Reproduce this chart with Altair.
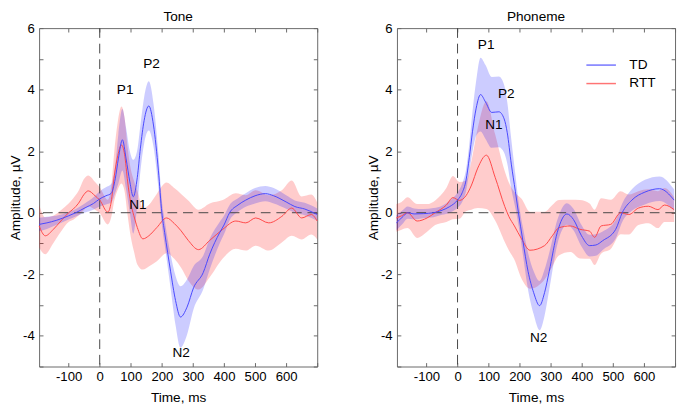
import altair as alt
import pandas as pd

# ---------------- data ----------------
# Tone, TD group
tone_td_t = [-195, -170, -140, -100, -77, -47, -20, 0, 20, 37, 50, 60, 73, 85, 97,
             108, 121, 131, 143, 158, 173, 189, 200, 209, 228, 244, 260, 281, 302, 333,
             354, 386, 400, 418, 445, 470, 500, 533, 560, 600, 628, 660, 700]
tone_td_mean = [-0.38, -0.33, -0.25, -0.1, 0.0, 0.16, 0.3, 0.45, 0.55, 0.63, 1.1, 1.75, 2.37, 1.75, 1.0,
                0.52, 1.15, 2.1, 3.0, 3.47, 2.85, 1.36, 0.0, -0.64, -1.9, -2.85, -3.39, -3.07, -2.44, -1.95,
                -1.35, -0.65, -0.4, 0.0, 0.25, 0.41, 0.55, 0.62, 0.55, 0.35, 0.2, 0.12, -0.06]
tone_td_sem = [0.22, 0.2, 0.15, 0.12, 0.12, 0.15, 0.2, 0.25, 0.28, 0.3, 0.45, 0.8, 1.0, 1.0, 1.0,
               1.2, 0.9, 0.75, 0.75, 0.8, 0.7, 0.55, 0.4, 0.4, 0.55, 0.8, 1.0, 0.9, 0.7, 0.55,
               0.5, 0.35, 0.3, 0.25, 0.22, 0.22, 0.25, 0.25, 0.25, 0.22, 0.2, 0.2, 0.2]

# Tone, RTT group
tone_rtt_t = [-195, -175, -150, -125, -100, -85, -68, -50, -37, -15, 0, 26, 37, 47, 58,
              70, 80, 90, 100, 110, 121, 139, 158, 184, 215, 240, 262, 285, 318, 354,
              396, 438, 470, 502, 544, 586, 618, 650, 681, 700]
tone_rtt_mean = [-0.43, -0.75, -0.55, -0.27, 0.0, 0.12, 0.31, 0.6, 0.71, 0.55, 0.41, 0.02, 0.35, 1.2, 1.85,
                 2.2, 1.9, 1.0, 0.31, -0.1, -0.48, -0.85, -0.75, -0.48, -0.17, -0.35, -0.59, -0.9, -1.2, -0.9,
                 -0.54, -0.27, -0.33, -0.17, -0.33, -0.12, 0.15, -0.17, -0.06, -0.27]
tone_rtt_sem = [0.7, 0.6, 0.45, 0.35, 0.3, 0.35, 0.4, 0.5, 0.5, 0.45, 0.42, 0.4, 0.5, 0.8, 1.1,
                1.25, 1.2, 1.1, 1.1, 1.15, 1.2, 1.0, 1.0, 1.1, 1.15, 1.15, 1.2, 1.3, 1.3, 1.2,
                0.95, 0.9, 0.9, 0.9, 0.9, 0.85, 0.9, 0.7, 0.65, 0.6]

# Phoneme, TD group
phon_td_t = [-197, -175, -161, -140, -110, -77, -50, -25, 0, 15, 27, 38, 48, 60, 74,
             90, 110, 133, 150, 160, 173, 186, 196, 210, 227, 245, 264, 280, 295, 321,
             352, 373, 399, 425, 445, 467, 509, 530, 561, 603, 650, 697]
phon_td_mean = [-0.33, -0.12, 0.0, -0.04, -0.03, 0.0, 0.08, 0.2, 0.41, 0.65, 1.04, 1.8, 2.63, 3.4, 3.84,
                3.6, 3.26, 3.28, 3.05, 2.6, 1.58, 0.7, 0.0, -0.9, -1.91, -2.6, -3.02, -2.6, -1.91, -0.64,
                -0.04, -0.22, -0.75, -1.07, -1.05, -0.91, -0.54, 0.0, 0.41, 0.67, 0.78, 0.41]
phon_td_sem = [0.25, 0.22, 0.2, 0.18, 0.15, 0.15, 0.15, 0.2, 0.25, 0.3, 0.35, 0.45, 0.65, 0.9, 1.2,
               1.2, 1.15, 1.15, 1.1, 1.0, 0.8, 0.55, 0.4, 0.45, 0.6, 0.7, 0.8, 0.75, 0.6, 0.4,
               0.35, 0.35, 0.35, 0.35, 0.35, 0.3, 0.3, 0.3, 0.35, 0.4, 0.4, 0.35]

# Phoneme, RTT group
phon_rtt_t = [-197, -180, -161, -130, -98, -72, -36, -15, 6, 27, 45, 65, 93, 121, 152,
              165, 183, 206, 233, 280, 305, 326, 363, 394, 425, 441, 462, 493, 525, 551,
              582, 614, 645, 666, 697]
phon_rtt_mean = [-0.17, -0.1, 0.0, -0.27, -0.17, 0.0, 0.25, 0.49, 0.4, 0.55, 0.9, 1.45, 1.87, 1.15, 0.2,
                 -0.12, -0.43, -0.85, -1.22, -1.07, -0.75, -0.49, -0.43, -0.54, -0.6, -0.8, -0.43, -0.38, 0.0, -0.06,
                 0.15, 0.21, 0.1, 0.25, 0.1]
phon_rtt_sem = [0.45, 0.45, 0.5, 0.55, 0.45, 0.4, 0.55, 0.7, 0.6, 0.5, 0.8, 1.3, 1.75, 1.4, 1.15,
                1.1, 1.1, 1.3, 1.25, 1.1, 1.0, 0.9, 0.85, 0.95, 0.9, 0.9, 0.9, 0.8, 0.7, 0.65,
                0.55, 0.55, 0.6, 0.55, 0.4]

# Peak labels
tone_peak_labels = ["P1", "P2", "N1", "N2"]
tone_peak_t = [82, 167, 123, 262]
tone_peak_v = [4.0, 4.84, 0.25, -4.56]
phon_peak_labels = ["P1", "P2", "N1", "N2"]
phon_peak_t = [92, 157, 117, 261]
phon_peak_v = [5.44, 3.86, 2.85, -4.08]

groups = ["TD", "RTT"]
x_ticks = [-100, 0, 100, 200, 300, 400, 500, 600, 700]
y_ticks = [-5, -4, -3, -2, -1, 0, 1, 2, 3, 4, 5, 6]
x_domain = [-195, 700]
y_domain = [-5, 6]

BLUE = "#4646ff"
RED = "#ff4646"
FONT = "Liberation Sans"
FRAME = "#666666"


def make_df(t, m, s, g):
    return pd.DataFrame({
        "t": t, "m": m,
        "lo": [a - b for a, b in zip(m, s)],
        "hi": [a + b for a, b in zip(m, s)],
        "group": g,
    })


def panel(title, td, rtt, lab, lt, lv, show_legend):
    xs = alt.Scale(domain=x_domain, nice=False, zero=False)
    ys = alt.Scale(domain=y_domain, nice=False, zero=False)
    x_axis = alt.Axis(values=x_ticks, title="Time, ms", orient="bottom",
                      labelExpr="datum.value < 700 ? toString(datum.value) : ''")
    y_axis = alt.Axis(values=y_ticks, title="Amplitude, µV", orient="left",
                      labelExpr="datum.value % 2 == 0 ? toString(datum.value) : ''")
    top_axis = alt.Axis(values=x_ticks, orient="top", labels=False, title=None,
                        minExtent=0, maxExtent=0)
    right_axis = alt.Axis(values=y_ticks, orient="right", labels=False, title=None,
                          minExtent=0, maxExtent=0)

    band_rtt = alt.Chart(rtt).mark_area(interpolate="monotone", color="#ff0000", opacity=0.2).encode(
        x=alt.X("t:Q", scale=xs, axis=x_axis),
        y=alt.Y("lo:Q", scale=ys, axis=y_axis),
        y2="hi:Q",
    )
    band_td = alt.Chart(td).mark_area(interpolate="monotone", color="#0000ff", opacity=0.2).encode(
        x=alt.X("t:Q", scale=xs, axis=None),
        y=alt.Y("lo:Q", scale=ys, axis=None),
        y2="hi:Q",
    )
    hzero = alt.Chart(pd.DataFrame({"v": [0]})).mark_rule(
        color="#444444", strokeDash=[10, 6], strokeWidth=1).encode(
        y=alt.Y("v:Q", scale=ys, axis=None))
    vzero = alt.Chart(pd.DataFrame({"t": [0]})).mark_rule(
        color="#444444", strokeDash=[10, 6], strokeWidth=1).encode(
        x=alt.X("t:Q", scale=xs, axis=None))

    if show_legend:
        legend = alt.Legend(title=None, orient="none", legendX=201, legendY=29, padding=0,
                            symbolType="M-1.9,0L1.9,0", symbolSize=256, symbolStrokeWidth=1.5,
                            symbolOpacity=0.75,
                            labelOffset=20, labelFont=FONT, labelFontSize=14, labelColor="black",
                            rowPadding=3)
    else:
        legend = None
    lines = alt.Chart(pd.concat([rtt, td])).mark_line(interpolate="monotone", strokeWidth=1).encode(
        x=alt.X("t:Q", scale=xs, axis=None),
        y=alt.Y("m:Q", scale=ys, axis=None),
        color=alt.Color("group:N", scale=alt.Scale(domain=groups, range=[BLUE, RED]), legend=legend),
        order=alt.Order("ord:Q"),
    ).transform_calculate(ord="datum.group == 'TD' ? 1 : 0")

    texts = alt.Chart(pd.DataFrame({"label": lab, "t": lt, "v": lv})).mark_text(
        font=FONT, fontSize=14, color="black", align="center", baseline="middle").encode(
        x=alt.X("t:Q", scale=xs, axis=top_axis),
        y=alt.Y("v:Q", scale=ys, axis=right_axis),
        text="label:N",
    )

    return alt.layer(band_rtt, band_td, hzero, vzero, lines, texts).resolve_axis(
        x="independent", y="independent"
    ).properties(
        width=286, height=348,
        title=alt.TitleParams(title, font=FONT, fontSize=14, fontWeight="normal",
                              color="black", offset=-3),
    )


tone = panel("Tone",
             make_df(tone_td_t, tone_td_mean, tone_td_sem, "TD"),
             make_df(tone_rtt_t, tone_rtt_mean, tone_rtt_sem, "RTT"),
             tone_peak_labels, tone_peak_t, tone_peak_v, False)
phon = panel("Phoneme",
             make_df(phon_td_t, phon_td_mean, phon_td_sem, "TD"),
             make_df(phon_rtt_t, phon_rtt_mean, phon_rtt_sem, "RTT"),
             phon_peak_labels, phon_peak_t, phon_peak_v, True)

chart = alt.hconcat(tone, phon, spacing=47).resolve_scale(color="independent").resolve_legend(
    color="independent"
).properties(
    padding={"left": 0, "top": -4, "right": 0, "bottom": 0}
).configure_view(
    stroke=FRAME, strokeWidth=1
).configure_axis(
    grid=False, domain=False, tickColor=FRAME, tickSize=4, offset=-4,
    labelFont=FONT, labelFontSize=13.5, labelColor="black",
    titleFont=FONT, titleFontSize=14, titleFontWeight="normal", titleColor="black",
).configure_axisLeft(
    labelPadding=5, titlePadding=0
).configure_axisBottom(
    labelPadding=3, titlePadding=8
)

chart.save("out.html", embed_options={"renderer": "svg", "actions": False})
